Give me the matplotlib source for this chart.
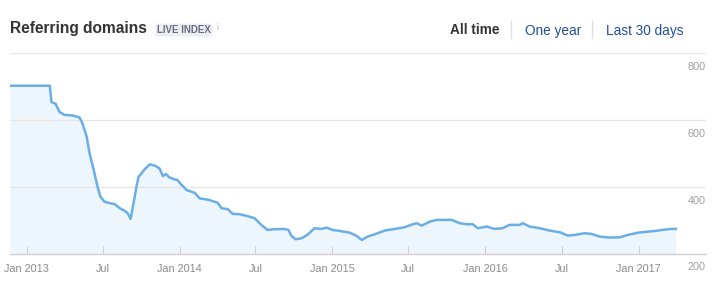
import matplotlib
matplotlib.use("Agg")
import matplotlib.pyplot as plt
import matplotlib.transforms as mtransforms
from matplotlib.patches import FancyBboxPatch
import numpy as np

plt.rcParams['font.family'] = ['Liberation Sans', 'DejaVu Sans']

dates = [
    "2012-11-22", "2013-02-25", "2013-03-01", "2013-03-11", "2013-03-20", "2013-04-01",
    "2013-04-21", "2013-05-07", "2013-05-14", "2013-05-24", "2013-05-31", "2013-06-10",
    "2013-06-19", "2013-06-26", "2013-07-06", "2013-07-18", "2013-07-30", "2013-08-11",
    "2013-08-23", "2013-08-30", "2013-09-06", "2013-09-13", "2013-09-20", "2013-09-25",
    "2013-10-02", "2013-10-10", "2013-10-22", "2013-11-03", "2013-11-14", "2013-11-22",
    "2013-11-29", "2013-12-08", "2013-12-20", "2013-12-27", "2014-01-04", "2014-01-18",
    "2014-02-06", "2014-02-18", "2014-03-02", "2014-03-14", "2014-04-02", "2014-04-11",
    "2014-04-26", "2014-05-08", "2014-05-24", "2014-06-10", "2014-06-29", "2014-07-15",
    "2014-07-30", "2014-08-15", "2014-09-08", "2014-09-18", "2014-09-25", "2014-10-05",
    "2014-10-19", "2014-11-02", "2014-11-19", "2014-12-06", "2014-12-18", "2015-01-01",
    "2015-01-18", "2015-02-11", "2015-02-28", "2015-03-12", "2015-03-26", "2015-04-12",
    "2015-05-06", "2015-05-30", "2015-06-22", "2015-07-12", "2015-07-21", "2015-08-02",
    "2015-08-22", "2015-09-07", "2015-10-01", "2015-10-13", "2015-11-01", "2015-11-18",
    "2015-12-02", "2015-12-14", "2016-01-04", "2016-01-23", "2016-02-11", "2016-02-28",
    "2016-03-23", "2016-03-30", "2016-04-16", "2016-05-10", "2016-06-03", "2016-06-27",
    "2016-07-16", "2016-08-01", "2016-08-25", "2016-09-11", "2016-09-30", "2016-10-24",
    "2016-11-17", "2016-12-06", "2017-01-01", "2017-01-24", "2017-02-10", "2017-02-27",
    "2017-03-18", "2017-03-31",
]
values = [
    703, 703, 654, 649, 625, 616,
    614, 608, 591, 551, 501, 451,
    401, 371, 356, 352, 349, 337,
    329, 322, 305, 352, 401, 431,
    441, 454, 468, 464, 456, 433,
    439, 429, 423, 421, 409, 391,
    383, 366, 364, 361, 353, 337,
    334, 320, 319, 314, 307, 287,
    272, 274, 275, 272, 254, 244,
    247, 257, 277, 275, 279, 272,
    269, 264, 254, 242, 252, 259,
    270, 275, 280, 289, 292, 285,
    297, 302, 302, 302, 292, 289,
    289, 277, 282, 275, 277, 287,
    287, 292, 282, 277, 270, 265,
    255, 257, 262, 260, 252, 249,
    250, 257, 264, 267, 269, 272,
    275, 275,
]

tick_dates = ["2013-01-01", "2013-07-01", "2014-01-01", "2014-07-01", "2015-01-01",
              "2015-07-01", "2016-01-01", "2016-07-01", "2017-01-01"]
tick_labels = ["Jan 2013", "Jul", "Jan 2014", "Jul", "Jan 2015", "Jul",
               "Jan 2016", "Jul", "Jan 2017"]
y_ticks = [800, 600, 400, 200]

title = "Referring domains"
badge = "LIVE INDEX"
ranges = ["All time", "One year", "Last 30 days"]

x = np.array(dates, dtype="datetime64[D]")
y = np.array(values)

W, H = 720, 289
fig = plt.figure(figsize=(W / 100, H / 100), dpi=100)
ax = fig.add_axes([10 / W, (H - 254) / H, (706 - 10) / W, (254 - 53.3) / H])

line_c = "#6aaee6"
fill_c = "#eef6fd"

ax.fill_between(x, y, 200, color=fill_c, zorder=1, linewidth=0)
for v in y_ticks[:-1]:
    ax.axhline(v, color="#e6e6e6", linewidth=1.0, zorder=1.5)
ax.plot(x, y, color=line_c, linewidth=1.8, zorder=3, solid_joinstyle="round")

ax.set_ylim(200, 800)
ax.set_xlim(np.datetime64("2012-11-22"), np.datetime64("2017-06-11"))

ax.set_xticks(np.array(tick_dates, dtype="datetime64[D]"))
ax.set_xticklabels(tick_labels)
ax.tick_params(axis="x", direction="in", length=5.5, width=0.8, color="#cfcfcf",
               labelsize=7.8, labelcolor="#8a8a8a", pad=7)
ax.set_yticks([])
for s in ["top", "left", "right"]:
    ax.spines[s].set_visible(False)
ax.spines["bottom"].set_color("#d0d0d0")
ax.spines["bottom"].set_linewidth(1.0)

# right-side value labels, just below each gridline
trans = mtransforms.blended_transform_factory(ax.transAxes, ax.transData)
off = mtransforms.offset_copy(trans, fig=fig, x=-0.7, y=-13.5, units="dots")
for v in y_ticks:
    ax.text(1.0, v, str(v), transform=off, ha="right", va="center",
            fontsize=7.8, color="#a0a0a0")

# Header
def fx(px):
    return px / W

def fy(py):
    return 1 - py / H

fig.text(fx(10), fy(28.5), title, fontsize=11.2, fontweight="bold", color="#333333",
         ha="left", va="center")
badge_box = FancyBboxPatch((fx(155.5), fy(36.5)), fx(212) - fx(155.5), fy(23.5) - fy(36.5),
                           boxstyle="round,pad=0,rounding_size=0.004",
                           transform=fig.transFigure, facecolor="#edeef3",
                           edgecolor="none")
fig.patches.append(badge_box)
fig.text(fx(183.8), fy(30), badge, fontsize=7.0, fontweight="bold", color="#6c6c82",
         ha="center", va="center")
fig.text(fx(217), fy(27), "i", fontsize=6.5, color="#b0b0b0", ha="center", va="center")

fig.text(fx(499), fy(30.5), ranges[0], fontsize=9.8, fontweight="bold", color="#333333",
         ha="right", va="center")
fig.text(fx(525), fy(30.5), ranges[1], fontsize=9.8, color="#1f4f99",
         ha="left", va="center")
fig.text(fx(606.5), fy(30.5), ranges[2], fontsize=9.8, color="#1f4f99",
         ha="left", va="center")
for sx in (511, 591.7):
    fig.add_artist(plt.Line2D([fx(sx), fx(sx)], [fy(21), fy(38.5)],
                              transform=fig.transFigure, color="#dddddd", linewidth=1.0))

fig.savefig("out.png", dpi=100)
